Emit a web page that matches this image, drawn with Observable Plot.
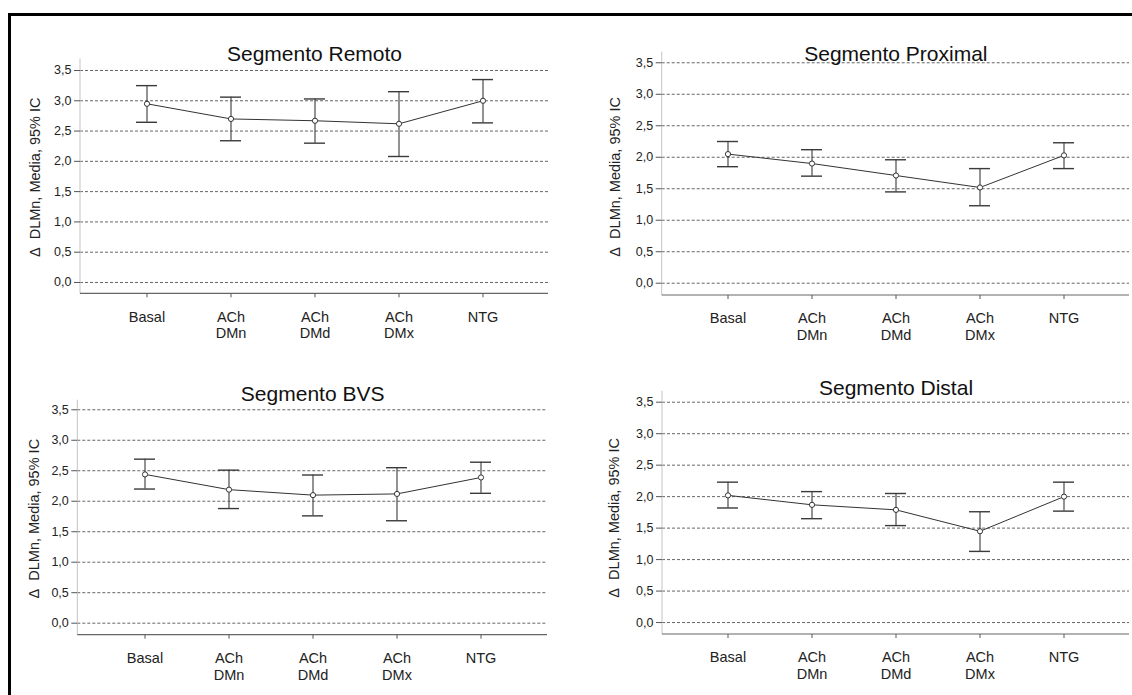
<!DOCTYPE html>
<html><head><meta charset="utf-8">
<script src="https://cdn.jsdelivr.net/npm/d3@7"></script>
<script src="https://cdn.jsdelivr.net/npm/@observablehq/plot@0.6"></script>
<style>
body{margin:0;background:#fff;}
#wrap{position:relative;width:1132px;height:695px;overflow:hidden;background:#fff;font-family:"Liberation Sans",Arial,sans-serif;}
#border{position:absolute;left:8px;top:13px;right:-10px;bottom:-10px;border-top:3px solid #000;border-left:3px solid #000;}
.panel{position:absolute;}
</style></head><body><div id="wrap"><div id="border"></div></div>
<script>
// ---- data ----
const categories = ["Basal", "ACh\nDMn", "ACh\nDMd", "ACh\nDMx", "NTG"];
const yTicks = [0, 0.5, 1, 1.5, 2, 2.5, 3, 3.5];
const panelTitles = ["Segmento Remoto", "Segmento Proximal", "Segmento BVS", "Segmento Distal"];
const yLabel = "Δ\u00a0\u00a0DLMn, Media, 95% IC";

const remotoMean = [2.95, 2.70, 2.67, 2.62, 3.00];
const remotoLow  = [2.645, 2.34, 2.30, 2.08, 2.635];
const remotoHigh = [3.25, 3.06, 3.03, 3.15, 3.35];

const proximalMean = [2.05, 1.90, 1.71, 1.52, 2.03];
const proximalLow  = [1.85, 1.70, 1.45, 1.23, 1.82];
const proximalHigh = [2.25, 2.12, 1.96, 1.82, 2.23];

const bvsMean = [2.44, 2.19, 2.10, 2.12, 2.39];
const bvsLow  = [2.20, 1.88, 1.76, 1.68, 2.13];
const bvsHigh = [2.69, 2.51, 2.43, 2.55, 2.64];

const distalMean = [2.02, 1.87, 1.79, 1.45, 2.00];
const distalLow  = [1.82, 1.65, 1.54, 1.13, 1.77];
const distalHigh = [2.23, 2.08, 2.05, 1.76, 2.23];

// ---- layout (positions only) ----
const layouts = [
  {left: 0,   top: 17,  width: 566, height: 330, L: 80,    R: 548,  T: 58.3,  B: 293.3, ydom: [-0.187, 3.693], titleDy: -12.3, labDx: -45, labDy: 1},
  {left: 566, top: 17,  width: 566, height: 330, L: 661.7, R: 1129, T: 51.7,  B: 295,   ydom: [-0.195, 3.668], titleDy: -5.7,  labDx: -47, labDy: 3},
  {left: 0,   top: 347, width: 566, height: 348, L: 77.3,  R: 547,  T: 399.7, B: 634.7, ydom: [-0.197, 3.657], titleDy: -14.2, labDx: -43, labDy: 1},
  {left: 566, top: 347, width: 566, height: 348, L: 662,   R: 1129, T: 390.7, B: 634,   ydom: [-0.19, 3.675],  titleDy: -11.2, labDx: -48, labDy: 5}
];
const series = [
  [remotoMean, remotoLow, remotoHigh],
  [proximalMean, proximalLow, proximalHigh],
  [bvsMean, bvsLow, bvsHigh],
  [distalMean, distalLow, distalHigh]
];

const fmt = d => d.toFixed(1).replace(".", ",");
const font = '"Liberation Sans", Arial, sans-serif';

function frameLines(index, scales, values, dim) {
  const g = d3.create("svg:g");
  const x0 = dim.marginLeft, x1 = dim.width - dim.marginRight;
  const y0 = dim.marginTop, y1 = dim.height - dim.marginBottom;
  g.append("line").attr("x1", x0).attr("x2", x0).attr("y1", y0).attr("y2", y1)
    .attr("stroke", "#c4c4c4").attr("stroke-width", 1);
  g.append("line").attr("x1", x0).attr("x2", x1).attr("y1", y1).attr("y2", y1)
    .attr("stroke", "#666").attr("stroke-width", 1.2);
  return g.node();
}

const wrap = document.getElementById("wrap");
layouts.forEach((cfg, p) => {
  const [mean, lo, hi] = series[p];
  const data = categories.map((c, i) => ({c, mean: mean[i], lo: lo[i], hi: hi[i]}));
  const plot = Plot.plot({
    width: cfg.width,
    height: cfg.height,
    marginLeft: cfg.L - cfg.left,
    marginRight: cfg.left + cfg.width - cfg.R,
    marginTop: cfg.T - cfg.top,
    marginBottom: cfg.top + cfg.height - cfg.B,
    style: {background: "transparent", fontFamily: font, overflow: "visible", color: "#222"},
    x: {type: "band", domain: categories, paddingInner: 0.75, paddingOuter: 0.644},
    y: {domain: cfg.ydom},
    marks: [
      Plot.ruleY(yTicks, {stroke: "#666", strokeDasharray: "3,2", strokeWidth: 1}),
      frameLines,
      Plot.axisY({ticks: yTicks, tickFormat: fmt, tickSize: 6, tickPadding: 3, fontSize: 12.5, label: null, stroke: "#555", fill: "#222"}),
      Plot.axisX({tickSize: 4, tickPadding: 12, fontSize: 14.5, label: null, lineHeight: 1.15, stroke: "#555", fill: "#222"}),
      Plot.ruleX(data, {x: "c", y1: "lo", y2: "hi", stroke: "#3a3a3a", strokeWidth: 1.1}),
      Plot.tickY(data, {x: "c", y: "hi", stroke: "#3a3a3a", strokeWidth: 1.4}),
      Plot.tickY(data, {x: "c", y: "lo", stroke: "#3a3a3a", strokeWidth: 1.4}),
      Plot.line(data, {x: "c", y: "mean", stroke: "#333", strokeWidth: 1}),
      Plot.dot(data, {x: "c", y: "mean", r: 2.6, fill: "white", stroke: "#333", strokeWidth: 1}),
      Plot.text([panelTitles[p]], {text: d => d, frameAnchor: "top", dy: cfg.titleDy, fontSize: 21, fill: "#111"}),
      Plot.text([yLabel], {text: d => d, frameAnchor: "left", textAnchor: "middle", lineAnchor: "middle", rotate: -90, dx: cfg.labDx, dy: cfg.labDy, fontSize: 14.5, fill: "#222"})
    ]
  });
  plot.classList.add("panel");
  plot.style.left = cfg.left + "px";
  plot.style.top = cfg.top + "px";
  plot.style.position = "absolute";
  wrap.appendChild(plot);
});
</script>
</body></html>
